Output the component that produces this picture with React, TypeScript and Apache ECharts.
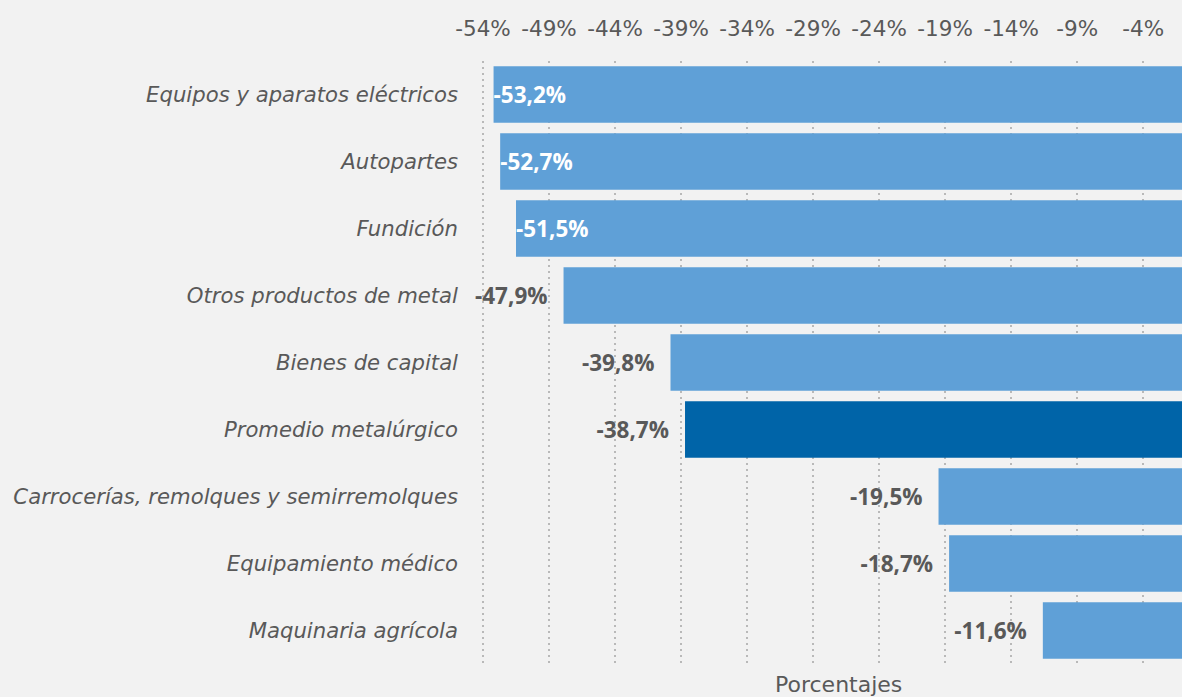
import React, { useEffect, useRef } from "react";
import * as echarts from "echarts";

const categories = [
  "Equipos y aparatos eléctricos",
  "Autopartes",
  "Fundición",
  "Otros productos de metal",
  "Bienes de capital",
  "Promedio metalúrgico",
  "Carrocerías, remolques y semirremolques",
  "Equipamiento médico",
  "Maquinaria agrícola",
];
const values = [-53.2, -52.7, -51.5, -47.9, -39.8, -38.7, -19.5, -18.7, -11.6];
const labelInside = [true, true, true, false, false, false, false, false, false];
const highlighted = "Promedio metalúrgico";
const axisMin = -54;
const axisMax = 0;
const axisStep = 5;
const axisName = "Porcentajes";

const fmt = (v: number) => v.toFixed(1).replace(".", ",") + "%";

export default function App() {
  const ref = useRef<HTMLDivElement>(null);
  useEffect(() => {
    if (!ref.current) return;
    const chart = echarts.init(ref.current, null, { renderer: "svg" });
    const font = "'DejaVu Sans', sans-serif";
    const boldFont = "'Open Sans', sans-serif";
    chart.setOption({
      animation: false,
      backgroundColor: "#F2F2F2",
      textStyle: { fontFamily: font },
      grid: {
        left: 483,
        width: 713,
        top: 61,
        height: 603,
        containLabel: false,
        outerBoundsMode: "none",
      },
      xAxis: {
        type: "value",
        position: "top",
        min: axisMin,
        max: axisMax,
        interval: axisStep,
        axisLine: { show: false },
        axisTick: { show: false },
        axisLabel: {
          color: "#595959",
          fontSize: 21.5,
          margin: 22,
          fontFamily: font,
          formatter: (v: number) => (v === axisMax ? "" : v + "%"),
        },
        splitLine: {
          show: true,
          lineStyle: { color: "#A6A6A6", type: [2, 4], width: 1.5 },
        },
      },
      yAxis: {
        type: "category",
        inverse: true,
        data: categories,
        axisLine: { show: false },
        axisTick: { show: false },
        axisLabel: {
          color: "#595959",
          fontSize: 21.2,
          fontStyle: "italic",
          margin: 25,
          fontFamily: font,
        },
        splitLine: { show: false },
      },
      series: [
        {
          type: "bar",
          barCategoryGap: "16%",
          data: values.map((v, i) => ({
            value: v,
            itemStyle: {
              color: categories[i] === highlighted ? "#0064A8" : "#5FA0D7",
            },
            label: labelInside[i]
              ? { position: "insideLeft", distance: 0, color: "#FFFFFF" }
              : { position: "left", distance: 16, color: "#595959" },
          })),
          label: {
            show: true,
            fontSize: 22.5,
            fontWeight: "bold",
            fontFamily: boldFont,
            formatter: (p: any) => fmt(p.value),
          },
        },
      ],
      graphic: [
        {
          type: "text",
          left: 775,
          top: 673,
          style: {
            text: axisName,
            fill: "#595959",
            fontSize: 22,
            fontFamily: font,
          },
        },
      ],
    });
    return () => chart.dispose();
  }, []);
  return (
    <div
      ref={ref}
      style={{ position: "fixed", left: 0, top: 0, width: 1182, height: 697 }}
    />
  );
}
